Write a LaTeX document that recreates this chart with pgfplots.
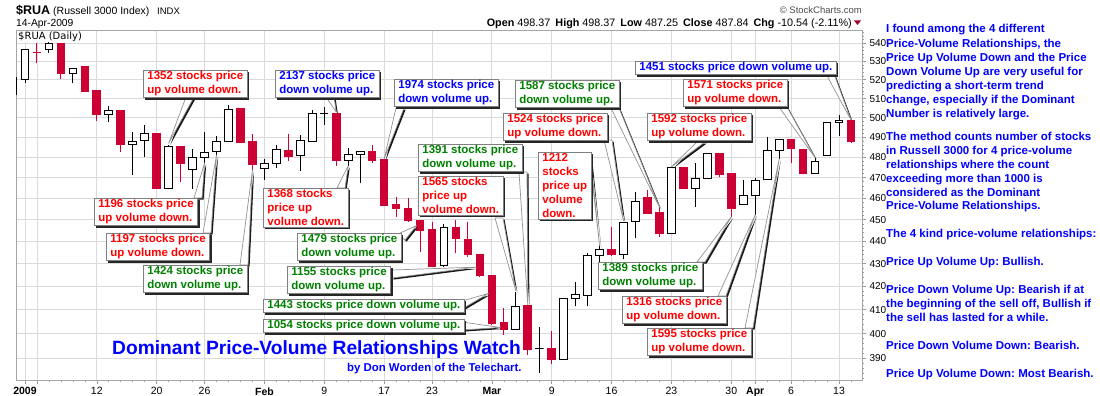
\documentclass[border=0pt]{standalone}
\usepackage{fontspec}
\setmainfont{Liberation Sans}
\newfontfamily\dejavu{DejaVu Sans}
\usepackage{pgfplots}
\pgfplotsset{compat=1.18}
\usetikzlibrary{shadows}
\frenchspacing
\definecolor{rdc}{RGB}{204,0,51}
\definecolor{gtx}{RGB}{0,128,0}
\definecolor{btx}{RGB}{0,0,255}
\definecolor{rtx}{RGB}{255,0,0}
\definecolor{gridc}{RGB}{218,218,218}
\pgfplotsset{
  candleU/.style={draw=black, fill=white, line width=1pt, mark=none},
  candleD/.style={draw=rdc, fill=rdc, line width=1pt, mark=none},
}
\tikzset{
  cbox/.style={draw=gray, fill=white, line width=0.8pt, align=left, inner xsep=4pt, inner ysep=1.2pt,
    font=\bfseries\fontsize{11.5}{14}\selectfont,
    drop shadow={shadow xshift=2pt, shadow yshift=-2pt, fill=black!85, opacity=1}},
}
\newcommand\ptr[3]{%
  \fill[black!90] ([shift={(1.6,-1.6)}]#1) -- ([shift={(1.6,-1.6)}]#2) -- ([shift={(1.6pt,-1.6pt)}]#3) -- cycle;
  \filldraw[draw=gray!85, fill=white, line width=0.7pt, line join=round] (#1) -- (#2) -- (#3) -- cycle;
}
\newcommand\callout[4]{\node[cbox, text=#3, anchor=north west] at (#1,396-#2) {#4};}
\begin{document}
\begin{tikzpicture}
\fill[white] (0,0) rectangle (1100pt,396pt);
\useasboundingbox (0,0) rectangle (1100pt,396pt);
\begin{axis}[
  at={(16pt,16pt)}, anchor=south west,
  scale only axis, width=846pt, height=350pt,
  xmin=-0.752, xmax=69.92,
  ymode=log, ymin=381.4, ymax=547.5,
  axis line style={draw=gray!70},
  clip mode=individual,
  xtick={0,1,6,11,15,20,25,30,34,39,44,49,54,59,61,64,68},
  xticklabels={\textbf{2009},,12,20,26,\textbf{Feb},9,17,23,\textbf{Mar},9,16,23,30,\textbf{Apr},6,13},
  minor xtick={-1,0,...,70},
  ytick={390,400,...,540},
  yticklabels={390,400,410,420,430,440,450,460,470,480,490,500,510,520,530,540},
  minor ytick={382,384,...,546},
  ytick pos=right, yticklabel pos=right, xtick pos=bottom,
  tick align=outside, major tick length=4pt, minor tick length=2pt,
  tick style={gray!80, line width=0.6pt},
  xmajorgrids, ymajorgrids,
  major grid style={gridc, line width=0.8pt},
  x tick label style={font=\fontsize{10.5}{12}\selectfont},
  y tick label style={font=\fontsize{10}{12}\selectfont},
]
\foreach \xx/\vl/\va/\vb/\vh/\ty in {
-1/511.9/511.9/521/521/U,
0/518.1/520.4/536.7/536.7/U,
1/529/535/535/540/D,
2/534.8/536.8/540/540.5/U,
3/520.4/523.5/540/540/D,
4/518.1/523.5/526.2/526.2/U,
5/513.7/513.7/527.1/527.6/D,
6/498.5/501.5/514.2/514.2/D,
7/497.7/501.8/503.5/506.1/U,
8/482.8/486.2/503.5/503.5/D,
9/471.3/486.2/487.8/492.6/U,
10/480/488.2/492.1/496.3/U,
11/464.6/464.6/492.1/492.1/D,
12/464.3/464.6/485.6/486.2/U,
13/468/477/485.6/485.6/D,
14/464.5/474.1/480/484/U,
15/477.3/480/482.3/492.6/U,
16/481.2/482.8/487.8/490.7/U,
17/487.8/487.8/504.4/506.5/U,
18/487/487.3/504.6/504.6/D,
19/473.8/476.6/487.8/491.6/D,
20/468.9/474.6/477/479/U,
21/474.6/477/484/486.2/U,
22/478.3/480.3/483.6/491.8/D,
23/473.4/480.7/488.3/491.1/U,
24/487.8/487.8/502.3/504/U,
25/496.3/502.3/502.3/505.8/U,
26/475.9/478.3/502.3/502.3/D,
27/475.9/478.2/481.5/484.5/U,
28/467.3/481.6/482.8/482.8/U,
29/477.3/478.3/483.1/486.2/D,
30/456.5/456.5/478.7/478.7/D,
31/451.2/455.4/457/460.8/D,
32/449.1/449.6/455.4/460/D,
33/435.4/445/449.6/450/D,
34/428.7/428.7/445.3/449.1/D,
35/428.7/429/446.5/448/U,
36/434.7/441.5/446.5/449.9/D,
37/433.2/434/441.1/449.1/D,
38/424.3/425/434.2/434.2/D,
39/403.6/404.4/425/425/D,
40/399.6/401.6/404.6/410.7/D,
41/401.6/401.6/411.4/417.8/U,
42/391.4/393.6/411.7/411.7/D,
43/384.3/393.8/393.8/402.9/U,
44/387.7/389.7/394/400.9/D,
45/389.7/389.7/414.9/414.9/U,
46/411.4/414.9/416.4/422.1/U,
47/411.4/416.1/433.5/434.7/U,
48/430.8/433.5/436.5/438.4/U,
49/433.5/434.2/436.5/446.8/D,
50/432/434.2/448.6/448.6/U,
51/441.5/449/458.5/463.3/U,
52/453/453/460.6/463.8/D,
53/442.2/443.5/453.5/455.9/D,
54/443.5/443.5/474.9/474.9/U,
55/464.3/464.6/474.9/474.9/D,
56/456.1/464.9/469.7/477.3/U,
57/469.7/469.7/482/482/U,
58/470.2/471.6/482/482/D,
59/451.2/455.4/471.8/471.8/D,
60/457.3/457.3/461.2/468.9/U,
61/452.2/461.2/468.6/469.7/U,
62/468.9/468.9/483.3/490.3/U,
63/479/483.6/489/489/U,
64/477/484.5/489/489/D,
65/471.6/472.1/484/484/D,
66/471.8/471.8/477.8/479.5/U,
67/480.7/480.7/497.5/497.5/U,
68/490.7/497.5/498.5/501.5/U,
69/487.25/487.84/498.37/498.37/D}{
  \pgfmathsetmacro\xa{\xx-0.32}\pgfmathsetmacro\xb{\xx+0.32}
  \edef\temp{\noexpand\addplot[candle\ty, line cap=butt] coordinates {(\xx,\vl) (\xx,\vh)};
    \noexpand\addplot[candle\ty, line cap=rect, line join=miter] coordinates {(\xa,\va) (\xb,\va) (\xb,\vb) (\xa,\vb) (\xa,\va)};}
  \temp
}
\coordinate (t1352) at (axis cs:12,487);
\coordinate (t2137) at (axis cs:26,503);
\coordinate (t1974) at (axis cs:30,479.2);
\coordinate (t1587) at (axis cs:53,455.8);
\coordinate (t1524) at (axis cs:50,449.5);
\coordinate (t1212) at (axis cs:48,438);
\coordinate (t1592) at (axis cs:54,475.3);
\coordinate (t1571) at (axis cs:66,479.8);
\coordinate (t1451) at (axis cs:69,498.9);
\coordinate (t1196) at (axis cs:15,477.2);
\coordinate (t1197) at (axis cs:16,481.1);
\coordinate (t1424) at (axis cs:19,473.7);
\coordinate (t1368) at (axis cs:27,475.8);
\coordinate (t1479) at (axis cs:32.7,447.3);
\coordinate (t1391) at (axis cs:42,412.2);
\coordinate (t1565) at (axis cs:41,418.1);
\coordinate (t1155) at (axis cs:37.7,428.5);
\coordinate (t1443) at (axis cs:38.7,417);
\coordinate (t1054) at (axis cs:39.7,402.6);
\coordinate (t1389) at (axis cs:59,451.4);
\coordinate (t1316) at (axis cs:61,452.4);
\coordinate (t1595) at (axis cs:63,479.2);
\end{axis}
\begin{scope}[x=1pt,y=1pt]
% header
\node[anchor=base west, inner sep=0, font=\bfseries\fontsize{12.5}{14}\selectfont] at (16,396-15) {\$RUA};
\node[anchor=base west, inner sep=0, font=\fontsize{10.5}{12}\selectfont] at (53,396-15) {(Russell 3000 Index)};
\node[anchor=base west, inner sep=0, font=\fontsize{9.5}{12}\selectfont] at (157,396-15) {INDX};
\node[anchor=base west, inner sep=0, font=\fontsize{10.3}{12}\selectfont] at (16,396-27) {14-Apr-2009};
\node[anchor=base east, inner sep=0, text=black!70, font=\fontsize{9.5}{12}\selectfont] at (862,396-13.5) {© StockCharts.com};
\node[anchor=base east, inner sep=0, font=\fontsize{10.8}{12}\selectfont] at (852,396-26.5)
 {\textbf{Open} 498.37\hspace{5pt}\textbf{High} 498.37\hspace{5pt}\textbf{Low} 487.25\hspace{5pt}\textbf{Close} 487.84\hspace{5pt}\textbf{Chg} -10.54 (-2.11\%)};
\fill[rdc!80!black] (854,396-20.5) -- (861,396-20.5) -- (857.5,396-25) -- cycle;
\node[anchor=west, fill=white, inner sep=1pt, font=\dejavu\fontsize{10}{12}\selectfont] at (17,396-36.5) {\$RUA (Daily)};
% pointers
\ptr{186,396-97}{194,396-97}{t1352}
\ptr{326,396-97}{334,396-97}{t2137}
\ptr{396,396-108}{404,396-108}{t1974}
\ptr{611,396-108}{619,396-108}{t1587}
\ptr{604,396-140}{612,396-140}{t1524}
\ptr{590,396-152}{590,396-161}{t1212}
\ptr{697,396-142}{705,396-142}{t1592}
\ptr{779,396-107}{787,396-107}{t1571}
\ptr{826,396-74}{834,396-74}{t1451}
\ptr{194,396-198}{202,396-198}{t1196}
\ptr{203,396-233}{211,396-233}{t1197}
\ptr{240,396-265}{248,396-265}{t1424}
\ptr{337,396-188}{345,396-188}{t1368}
\ptr{398,396-234}{405,396-240}{t1479}
\ptr{519,396-172}{527,396-172}{t1391}
\ptr{495,396-218}{503,396-218}{t1565}
\ptr{392,396-270}{392,396-278}{t1155}
\ptr{462,396-301}{462,396-309}{t1443}
\ptr{462,396-322}{462,396-330}{t1054}
\ptr{697,396-262}{705,396-262}{t1389}
\ptr{718,396-296}{726,396-296}{t1316}
\ptr{745,396-328}{753,396-328}{t1595}
% callouts
\callout{143}{70}{rtx}{1352 stocks price\\up volume down.}
\callout{275}{70}{btx}{2137 stocks price\\down volume up.}
\callout{394}{79}{btx}{1974 stocks price\\down volume up.}
\callout{515}{80}{gtx}{1587 stocks price\\down volume up.}
\callout{503}{113}{rtx}{1524 stocks price\\up volume down.}
\callout{538}{152}{rtx}{1212\\stocks\\price up\\volume\\down.}
\callout{647}{113}{rtx}{1592 stocks price\\up volume down.}
\callout{683}{79}{rtx}{1571 stocks price\\up volume down.}
\callout{635}{61}{btx}{1451 stocks price down volume up.}
\callout{94}{198}{rtx}{1196 stocks price\\up volume down.}
\callout{106}{233}{rtx}{1197 stocks price\\up volume down.}
\callout{143}{265}{gtx}{1424 stocks price\\down volume up.}
\callout{263}{188}{rtx}{1368 stocks\\price up\\volume down.}
\callout{297}{233}{gtx}{1479 stocks price\\down volume up.}
\callout{418}{144}{gtx}{1391 stocks price\\down volume up.}
\callout{418}{176}{rtx}{1565 stocks\\price up\\volume down.}
\callout{287}{266}{gtx}{1155 stocks price\\down volume up.}
\callout{263}{299}{gtx}{1443 stocks price down volume up.}
\callout{263}{319}{gtx}{1054 stocks price down volume up.}
\callout{598}{262}{gtx}{1389 stocks price\\down volume up.}
\callout{622}{296}{rtx}{1316 stocks price\\up volume down.}
\callout{647}{328}{rtx}{1595 stocks price\\up volume down.}
% title
\node[anchor=base west, inner sep=0, text=btx, font=\bfseries\fontsize{19.2}{22}\selectfont] at (112,396-355) {Dominant Price-Volume Relationships Watch};
\node[anchor=base west, inner sep=0, text=btx, font=\bfseries\fontsize{11.4}{13}\selectfont] at (347,396-372) {by Don Worden of the Telechart.};
% right text
\foreach \yy/\txt in {
29/{I found among the 4 different},
43.3/{Price-Volume Relationships, the},
57.3/{Price Up Volume Down and the Price},
71.3/{Down Volume Up are very useful for},
85.3/{predicting a short-term trend},
99.3/{change, especially if the Dominant},
113.3/{Number is relatively large.},
136.7/{The method counts number of stocks},
150.7/{in Russell 3000 for 4 price-volume},
164.3/{relationships where the count},
178.3/{exceeding more than 1000 is},
192.3/{considered as the Dominant},
205.7/{Price-Volume Relationships.},
234/{The 4 kind price-volume relationships:},
261.7/{Price Up Volume Up: Bullish.},
290/{Price Down Volume Up: Bearish if at},
304/{the beginning of the sell off, Bullish if},
318/{the sell has lasted for a while.},
346/{Price Down Volume Down: Bearish.},
374/{Price Up Volume Down: Most Bearish.}}{
  \node[anchor=base west, inner sep=0, text=btx, font=\bfseries\fontsize{11.5}{14}\selectfont] at (886,396-\yy-4) {\txt};
}
\end{scope}
\end{tikzpicture}
\end{document}
